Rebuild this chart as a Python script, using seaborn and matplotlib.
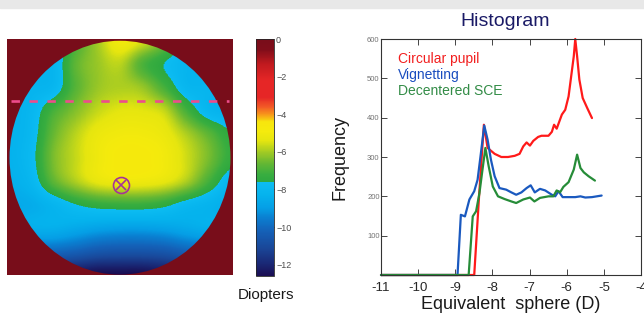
import numpy as np
import matplotlib
matplotlib.use("Agg")
import matplotlib.pyplot as plt
from matplotlib.colors import LinearSegmentedColormap
from matplotlib.patches import Ellipse, Rectangle
import seaborn as sns

sns.set_style("ticks")
plt.rcParams['font.family'] = ['Liberation Sans', 'DejaVu Sans']

# ---- refraction map (equivalent sphere, diopters), rows top -> bottom ----
map_values = np.array([
    [-8.2, -8.2, -8.1, -7.0, -6.0, -5.0, -5.5, -6.5, -8.0, -8.2, -8.2],
    [-8.3, -8.2, -8.1, -6.7, -6.1, -5.8, -6.9, -7.6, -8.1, -8.3, -8.4],
    [-8.3, -8.2, -8.0, -6.8, -6.1, -5.9, -6.1, -7.0, -8.0, -8.1, -8.2],
    [-8.3, -8.0, -7.0, -6.3, -5.7, -5.4, -5.4, -5.7, -7.0, -8.0, -8.2],
    [-8.3, -7.9, -6.6, -5.8, -5.2, -5.0, -5.0, -5.2, -5.9, -6.7, -7.5],
    [-8.3, -7.8, -6.4, -5.7, -5.1, -4.8, -4.8, -5.0, -5.6, -6.4, -7.3],
    [-8.4, -8.0, -6.7, -5.9, -5.3, -5.1, -5.1, -5.3, -5.9, -7.0, -8.0],
    [-8.6, -8.5, -8.1, -7.6, -7.3, -7.2, -7.2, -7.4, -7.9, -8.2, -8.5],
    [-8.5, -8.4, -8.4, -8.6, -8.8, -8.9, -8.9, -8.8, -8.6, -8.4, -8.4],
    [-10.0, -10.0, -10.0, -10.2, -10.5, -10.6, -10.6, -10.5, -10.2, -10.0, -10.0],
    [-12.0, -12.0, -12.2, -12.4, -12.6, -12.6, -12.6, -12.4, -12.2, -12.0, -12.0],
])
map_vmin, map_vmax = -12.6, 0.0
cbar_ticks = [-12, -10, -8, -6, -4, -2, 0]

# colour stops of the diopter scale
cmap_levels = [-12.6, -12.0, -11.1, -10.2, -9.5, -9.0, -8.3, -7.62, -7.58, -7.2,
               -6.6, -6.1, -5.4, -4.9, -4.4, -4.05, -3.6, -3.1, -2.2, -1.3, -0.55, 0.0]
cmap_colors = [(0.10, 0.05, 0.32), (0.10, 0.15, 0.45), (0.10, 0.28, 0.60),
               (0.08, 0.38, 0.72), (0.04, 0.50, 0.82), (0.02, 0.62, 0.90),
               (0.02, 0.70, 0.93), (0.05, 0.74, 0.95), (0.18, 0.66, 0.25),
               (0.22, 0.68, 0.25), (0.40, 0.72, 0.20), (0.60, 0.78, 0.15),
               (0.90, 0.90, 0.06), (0.96, 0.92, 0.05), (0.97, 0.90, 0.05),
               (0.97, 0.62, 0.10), (0.95, 0.35, 0.15), (0.90, 0.15, 0.15),
               (0.90, 0.15, 0.15), (0.75, 0.10, 0.12), (0.50, 0.05, 0.10),
               (0.47, 0.05, 0.10)]

# ---- histogram series ----
red_x = [-11.0, -8.49, -8.36, -8.23, -8.13, -7.94, -7.76, -7.58, -7.40, -7.27, -7.17,
         -7.08, -6.99, -6.90, -6.77, -6.68, -6.49, -6.40, -6.34, -6.27, -6.13, -6.04,
         -5.95, -5.88, -5.81, -5.77, -5.72, -5.66, -5.57, -5.45, -5.32]
red_y = [0, 0, 200, 382, 323, 308, 300, 300, 303, 308, 327,
         337, 329, 341, 351, 354, 354, 364, 382, 372, 408, 420,
         454, 505, 556, 600, 556, 497, 450, 425, 399]

blue_x = [-11.0, -8.94, -8.85, -8.74, -8.62, -8.49, -8.40, -8.31, -8.22, -8.13, -8.04,
          -7.94, -7.81, -7.63, -7.49, -7.36, -7.22, -7.08, -6.97, -6.86, -6.72, -6.58,
          -6.40, -6.31, -6.22, -6.11, -5.95, -5.77, -5.63, -5.50, -5.32, -5.06]
blue_y = [0, 0, 153, 149, 192, 213, 242, 310, 380, 344, 293,
          251, 221, 217, 210, 204, 210, 221, 228, 210, 219, 215,
          204, 200, 213, 198, 198, 198, 200, 197, 198, 202]

green_x = [-11.0, -8.64, -8.53, -8.44, -8.35, -8.28, -8.19, -8.10, -7.99, -7.85, -7.67,
           -7.49, -7.36, -7.17, -6.99, -6.87, -6.72, -6.49, -6.36, -6.27, -6.18, -6.09,
           -5.95, -5.81, -5.72, -5.63, -5.54, -5.41, -5.24]
green_y = [0, 0, 149, 162, 208, 259, 323, 276, 225, 200, 193,
           187, 183, 192, 197, 187, 196, 200, 200, 215, 210, 224,
           236, 268, 306, 272, 261, 251, 240]

series_names = ["Circular pupil", "Vignetting", "Decentered SCE"]
series_colors = [(1.0, 0.1, 0.1), (0.1, 0.35, 0.75), (0.15, 0.55, 0.22)]
label_colors = [(0.95, 0.12, 0.12), (0.1, 0.3, 0.75), (0.2, 0.55, 0.28)]

W, H = 644, 320
fig = plt.figure(figsize=(W / 100, H / 100), dpi=100, facecolor="white")


def box(x0, y0, x1, y1):
    return [x0 / W, 1 - y1 / H, (x1 - x0) / W, (y1 - y0) / H]


fig.patches.append(Rectangle((0, 1 - 8 / H), 1, 8 / H, transform=fig.transFigure,
                             color=(0.91, 0.91, 0.91), zorder=0))

# ---- left: pupil map ----
maroon = (0.47, 0.05, 0.10)
ax1 = fig.add_axes(box(7, 39, 233, 275))
ax1.set_facecolor(maroon)
cmap = LinearSegmentedColormap.from_list(
    "diopters",
    [((lv - map_vmin) / (map_vmax - map_vmin), c) for lv, c in zip(cmap_levels, cmap_colors)],
    N=512)
im = ax1.imshow(map_values, cmap=cmap, vmin=map_vmin, vmax=map_vmax,
                extent=(-1.1, 1.1, -1.1, 1.1), origin="upper",
                interpolation="catrom", interpolation_stage="data", aspect="auto")
pupil = Ellipse((0, 0), 2.0, 2.0, transform=ax1.transData)
im.set_clip_path(pupil)
ax1.set_xlim(-1.023, 1.023)
ax1.set_ylim(-1.003, 1.015)
ax1.set_xticks([])
ax1.set_yticks([])
for s in ax1.spines.values():
    s.set_visible(False)
ax1.plot([-0.99, 0.99], [0.487, 0.487], color=(0.93, 0.30, 0.55), lw=1.9,
         dashes=(3.2, 3.6))
ax1.plot([0.01], [-0.23], marker="o", ms=11.5, mfc="none", mec=(0.65, 0.2, 0.6), mew=1.2)
ax1.plot([0.01], [-0.23], marker="x", ms=7, mec=(0.65, 0.2, 0.6), mew=1.2)

cax = fig.add_axes(box(256, 39, 274, 276))
cb = fig.colorbar(im, cax=cax, ticks=cbar_ticks)
cb.outline.set_linewidth(0.6)
cax.tick_params(direction="in", length=2.5, width=0.5, pad=1.5, labelsize=6.5,
                labelcolor=(0.3, 0.3, 0.3))
fig.text(266 / W, 1 - 295 / H, "Diopters", ha="center", va="center", fontsize=11,
         color=(0.1, 0.1, 0.1))

# ---- right: histogram ----
ax2 = fig.add_axes(box(381, 39, 641, 275))
for xs, ys, col in zip([red_x, blue_x, green_x], [red_y, blue_y, green_y], series_colors):
    sns.lineplot(x=xs, y=ys, color=col, lw=1.6, ax=ax2, clip_on=False, sort=False)
ax2.set_xlim(-11, -4)
ax2.set_ylim(0, 600)
ax2.set_xticks(range(-11, -3))
ax2.set_xticklabels([f"{t}" for t in range(-11, -3)])
ax2.set_yticks([100, 200, 300, 400, 500, 600])
ax2.tick_params(direction="in", top=True, right=True, length=4, width=0.6)
ax2.tick_params(axis="x", labelsize=9.5, labelcolor=(0.15, 0.15, 0.15), pad=5)
ax2.tick_params(axis="y", labelsize=5.5, labelcolor=(0.45, 0.45, 0.45), pad=1)
for s in ax2.spines.values():
    s.set_linewidth(0.8)
    s.set_color((0.2, 0.2, 0.2))
ax2.set_xlabel("Equivalent  sphere (D)", fontsize=13, color=(0.1, 0.1, 0.1))
ax2.set_ylabel("Frequency", fontsize=13, color=(0.1, 0.1, 0.1))
ax2.xaxis.set_label_coords(0.5, -0.088)
ax2.yaxis.set_label_coords(-0.125, 0.5)

for i, (name, col) in enumerate(zip(series_names, label_colors)):
    fig.text(398 / W, 1 - (59 + 16 * i) / H, name, ha="left", va="center",
             fontsize=10, color=col)

fig.text(505 / W, 1 - 21 / H, "Histogram", ha="center", va="center", fontsize=14,
         color=(0.1, 0.1, 0.4))

fig.savefig("out.png", dpi=100)
